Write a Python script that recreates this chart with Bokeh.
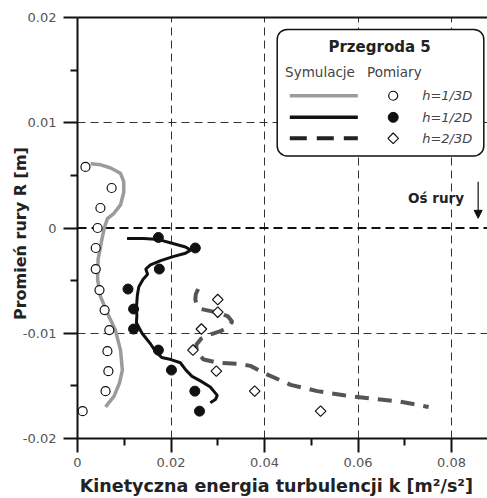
import numpy as np
from bokeh.plotting import figure
from bokeh.models import (FixedTicker, LinearAxis, Span, BoxAnnotation, Label, Arrow,
                          NormalHead, Range1d)
from bokeh.embed import file_html
from bokeh.resources import INLINE

# ---------------- data ----------------
# measurements h=1/3D (open circles)
m13_k = [0.0017, 0.0073, 0.0049, 0.0043, 0.0039, 0.0039, 0.0047, 0.0058, 0.0068, 0.0064, 0.0066, 0.0060, 0.0011]
m13_r = [0.0058, 0.0038, 0.0019, 0.0000, -0.0019, -0.0039, -0.0059, -0.0078, -0.0097, -0.0117, -0.0136, -0.0155, -0.0174]
# measurements h=1/2D (filled circles)
m12_k = [0.0173, 0.0252, 0.0175, 0.0108, 0.0120, 0.0120, 0.0173, 0.0201, 0.0251, 0.0261]
m12_r = [-0.0009, -0.0019, -0.0039, -0.0058, -0.0077, -0.0096, -0.0116, -0.0135, -0.0155, -0.0174]
# measurements h=2/3D (diamonds)
m23_k = [0.0300, 0.0300, 0.0265, 0.0247, 0.0297, 0.0379, 0.0520]
m23_r = [-0.0068, -0.0080, -0.0096, -0.0116, -0.0136, -0.0155, -0.0174]

# simulation h=1/3D
s13_k = [0.0028, 0.0050, 0.0071, 0.0092, 0.0099, 0.0099, 0.0092, 0.0078, 0.0064, 0.0058, 0.0052,
         0.0044, 0.0043, 0.0049, 0.0064, 0.0081, 0.0092, 0.0096, 0.0090, 0.0078, 0.0060]
s13_r = [0.0061, 0.0060, 0.0057, 0.0052, 0.0044, 0.0034, 0.0022, 0.0014, 0.0009, 0.0001, -0.0011,
         -0.0030, -0.0049, -0.0065, -0.0081, -0.0097, -0.0116, -0.0135, -0.0147, -0.0160, -0.0170]
# simulation h=1/2D
s12_k = [0.0106, 0.0142, 0.0174, 0.0206, 0.0231, 0.0242, 0.0231, 0.0206, 0.0178, 0.0156, 0.0146,
         0.0150, 0.0140, 0.0131, 0.0128, 0.0126, 0.0127, 0.0126, 0.0138, 0.0156, 0.0168, 0.0180,
         0.0200, 0.0220, 0.0232, 0.0245, 0.0262, 0.0284, 0.0299, 0.0295, 0.0284]
s12_r = [-0.0010, -0.0010, -0.0011, -0.0015, -0.0018, -0.0021, -0.0024, -0.0027, -0.0031, -0.0035, -0.0039,
         -0.0044, -0.0049, -0.0056, -0.0064, -0.0076, -0.0083, -0.0090, -0.0100, -0.0110, -0.0118, -0.0123,
         -0.0125, -0.0128, -0.0135, -0.0141, -0.0145, -0.0151, -0.0159, -0.0163, -0.0166]
# simulation h=2/3D
s23_k = [0.0258, 0.0253, 0.0252, 0.0255, 0.0265, 0.0285, 0.0305, 0.0322, 0.0331, 0.0322, 0.0306,
         0.0285, 0.0265, 0.0254, 0.0255, 0.0270, 0.0300, 0.0342, 0.0370, 0.0400, 0.0456, 0.0513,
         0.0570, 0.0627, 0.0691, 0.0751]
s23_r = [-0.0058, -0.0063, -0.0068, -0.0073, -0.0077, -0.0079, -0.0081, -0.0084, -0.0089, -0.0094, -0.0098,
         -0.0101, -0.0105, -0.0111, -0.0118, -0.0125, -0.0128, -0.0129, -0.0131, -0.0138, -0.0149, -0.0155,
         -0.0159, -0.0162, -0.0165, -0.0170]

x_ticks = [0.0, 0.02, 0.04, 0.06, 0.08]
x_tick_labels = ["0", "0.02", "0.04", "0.06", "0.08"]
x_minor = [0.01, 0.03, 0.05, 0.07]
y_ticks = [-0.02, -0.01, 0.0, 0.01, 0.02]
y_tick_labels = ["-0.02", "-0.01", "0", "0.01", "0.02"]
y_minor = [-0.015, -0.005, 0.005, 0.015]

legend_labels = ["h=1/3D", "h=1/2D", "h=2/3D"]

FONT = "DejaVu Sans"
GRAY_LINE = "#9b9b9b"
DASH_LINE = "#555555"

p = figure(width=487, height=498, output_backend="svg", toolbar_location=None,
           x_range=Range1d(0, 0.0877), y_range=Range1d(-0.02, 0.02),
           min_border_left=77, min_border_right=0, min_border_top=17, min_border_bottom=60,
           background_fill_color="white", border_fill_color="white")
p.outline_line_color = None

# axes
for ax, ticks, minor, labels in ((p.xaxis[0], x_ticks, x_minor, x_tick_labels),
                                 (p.yaxis[0], y_ticks, y_minor, y_tick_labels)):
    ax.ticker = FixedTicker(ticks=ticks, minor_ticks=minor)
    ax.major_label_overrides = {t: l for t, l in zip(ticks, labels)}
    ax.axis_line_width = 2
    ax.axis_line_color = "#111111"
    ax.major_tick_line_width = 2
    ax.major_tick_line_color = "#111111"
    ax.minor_tick_line_width = 2
    ax.minor_tick_line_color = "#111111"
    ax.major_tick_in = 0
    ax.major_tick_out = 14
    ax.minor_tick_in = 0
    ax.minor_tick_out = 7
    ax.major_label_text_font = FONT
    ax.major_label_text_font_size = "13px"
    ax.major_label_text_color = "#555555"
    ax.axis_label_text_font = FONT
    ax.axis_label_text_font_style = "bold"
    ax.axis_label_text_color = "#222222"

p.xaxis.axis_label = "Kinetyczna energia turbulencji  k  [m²/s²]"
p.xaxis.axis_label_text_font_size = "17.5px"
p.xaxis.major_label_standoff = 5
p.xaxis.axis_label_standoff = 6
p.yaxis.axis_label = "Promień rury  R  [m]"
p.yaxis.axis_label_text_font_size = "16px"
p.yaxis.major_label_standoff = 7
p.yaxis.axis_label_standoff = -10

top = LinearAxis(ticker=FixedTicker(ticks=[]), axis_line_width=2, axis_line_color="#111111",
                 major_tick_line_color=None, minor_tick_line_color=None,
                 major_label_text_font_size="0px")
p.add_layout(top, "above")

# grid
p.xgrid.ticker = FixedTicker(ticks=[0.02, 0.04, 0.06, 0.08])
p.ygrid.ticker = FixedTicker(ticks=[-0.01, 0.01])
for g in (p.xgrid[0], p.ygrid[0]):
    g.grid_line_color = "#333333"
    g.grid_line_width = 1
    g.grid_line_dash = "8 5"
p.add_layout(Span(location=0.0, dimension="width", line_color="#111111",
                  line_width=2, line_dash="9 5", level="underlay"))

# simulations
p.line(s13_k, s13_r, line_color=GRAY_LINE, line_width=3.5)
p.line(s12_k, s12_r, line_color="#111111", line_width=3)
p.line(s23_k, s23_r, line_color=DASH_LINE, line_width=4, line_dash="14 9")

# measurements
p.scatter(m13_k, m13_r, marker="circle", size=9, fill_color="white",
          line_color="#111111", line_width=1.2)
p.scatter(m12_k, m12_r, marker="circle", size=10, fill_color="#111111",
          line_color="#111111")
p.scatter(m23_k, m23_r, marker="square", angle=np.pi / 4, size=7.5, fill_color="white",
          line_color="#111111", line_width=1.2)

# ---- legend box ----
p.add_layout(BoxAnnotation(left=0.04272, right=0.08691, top=0.01887, bottom=0.00684,
                           fill_color="white", fill_alpha=1.0, line_color="#111111",
                           line_alpha=1.0, line_width=1.5, border_radius=10))
p.add_layout(Label(x=0.06518, y=0.01722, text="Przegroda  5", text_font=FONT,
                   text_font_size="15px", text_font_style="bold", text_color="#222222",
                   text_align="center", text_baseline="middle"))
p.add_layout(Label(x=0.05187, y=0.01484, text="Symulacje", text_font=FONT,
                   text_font_size="13.5px", text_color="#444444",
                   text_align="center", text_baseline="middle"))
p.add_layout(Label(x=0.06777, y=0.01484, text="Pomiary", text_font=FONT,
                   text_font_size="13.5px", text_color="#444444",
                   text_align="center", text_baseline="middle"))

leg_y = [0.012564, 0.010513, 0.008518]
lx0, lx1, mx, tx = 0.04541, 0.05996, 0.06753, 0.07373
r1 = p.line([lx0, lx1], [leg_y[0]] * 2, line_color=GRAY_LINE, line_width=3.5)
r2 = p.line([lx0, lx1], [leg_y[1]] * 2, line_color="#111111", line_width=3.5)
r3 = p.line([lx0, lx1], [leg_y[2]] * 2, line_color="#222222", line_width=4, line_dash="17 10")
r4 = p.scatter([mx], [leg_y[0]], marker="circle", size=9, fill_color="white",
               line_color="#111111", line_width=1.2)
r5 = p.scatter([mx], [leg_y[1]], marker="circle", size=10, fill_color="#111111",
               line_color="#111111")
r6 = p.scatter([mx], [leg_y[2]], marker="square", angle=np.pi / 4, size=7.5,
               fill_color="white", line_color="#111111", line_width=1.2)
for r in (r1, r2, r3, r4, r5, r6):
    r.level = "overlay"
for yy, lab in zip(leg_y, legend_labels):
    p.add_layout(Label(x=tx, y=yy, text=lab, text_font=FONT, text_font_size="13px",
                       text_font_style="italic", text_color="#444444",
                       text_baseline="middle"))

# pipe axis annotation
p.add_layout(Label(x=0.0767, y=0.00282, text="Oś rury", text_font=FONT,
                   text_font_size="13.5px", text_font_style="bold", text_color="#222222",
                   text_align="center", text_baseline="middle"))
p.add_layout(Arrow(x_start=0.0857, y_start=0.0044, x_end=0.0857, y_end=0.00092,
                   line_color="#111111", line_width=1.2,
                   end=NormalHead(size=8, fill_color="#111111", line_color="#111111")))

open("out.html", "w").write(file_html(p, INLINE))
